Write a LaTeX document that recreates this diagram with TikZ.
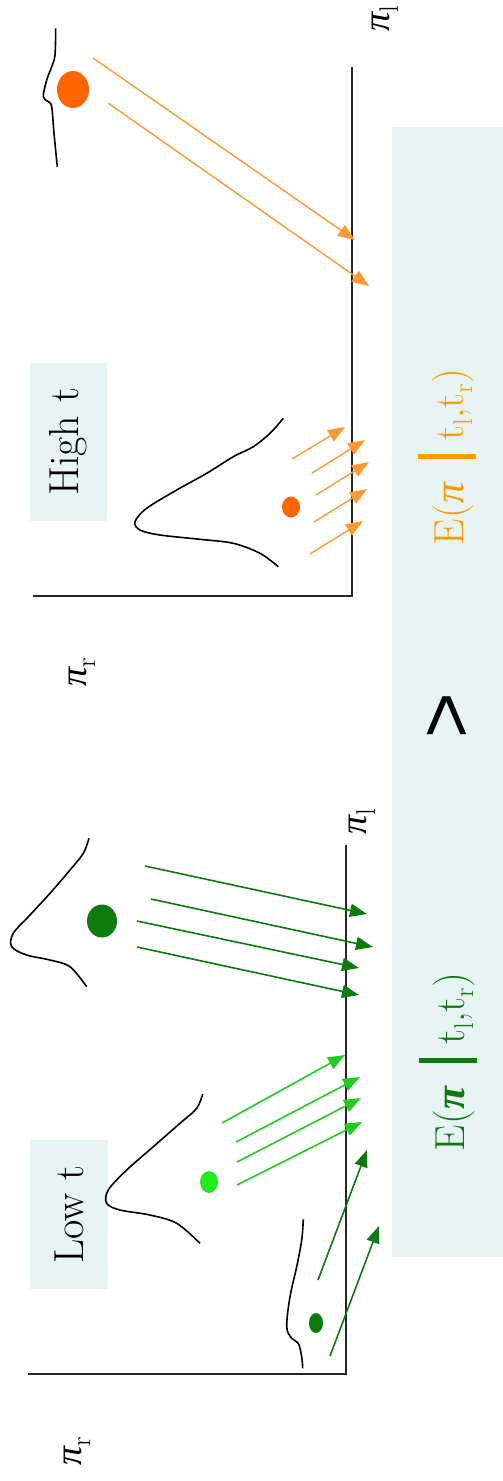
\documentclass[tikz,border=0pt]{standalone}
\usepackage{fontspec}
\usetikzlibrary{arrows.meta}
\newfontfamily\arialf{Liberation Sans}
\newfontfamily\grk{Liberation Serif}
\newcommand\PIit{{\grk\itshape π}}
\newcommand\PIbf{{\grk\bfseries\itshape π}}
\newcommand\lowsub[1]{\raisebox{-9pt}{\fontsize{27}{28}\selectfont #1}}
\newcommand\ebar{\hspace{24pt}\rule[-13pt]{4.5pt}{58pt}\hspace{14pt}}
\definecolor{panelbg}{HTML}{E8F4F4}
\definecolor{orArrow}{HTML}{FF9933}
\definecolor{orDot}{HTML}{FF6600}
\definecolor{orText}{HTML}{FF9900}
\definecolor{dkGreen}{HTML}{0D7A0D}
\definecolor{ltGreen}{HTML}{22CC22}
\definecolor{ltDot}{HTML}{1EEE1E}
\begin{document}
\begin{tikzpicture}[x=1pt,y=-1pt,
  axis/.style={line width=1.8pt, draw=black!85},
  dens/.style={line width=1.6pt, smooth, tension=0.55},
  oarr/.style={draw=orArrow, line width=1.4pt, -{Triangle[length=17pt,width=13pt]}},
  garr/.style={draw=dkGreen, line width=1.6pt, -{Triangle[length=17pt,width=13pt]}},
  larr/.style={draw=ltGreen, line width=1.6pt, -{Triangle[length=17pt,width=13pt]}},
  lbl/.style={fill=panelbg, rotate=90, inner sep=0pt, font=\fontsize{42}{48}\selectfont},
  axlbl/.style={rotate=90, inner sep=0pt, font=\fontsize{38}{44}\selectfont},
  etext/.style={rotate=90, inner sep=0pt, font=\fontsize{42}{48}\selectfont}
]
\useasboundingbox (0,0) rectangle (503,1481);
% background panel
\fill[panelbg] (392,127) rectangle (503,1257);

% ---------- High t ----------
\node[lbl, minimum width=158pt, minimum height=77pt] (hight) at (68.5,442) {High t};
\coordinate (hO) at (351.7,596);
\coordinate (hY) at (351.7,67);
\coordinate (hX) at (33,596);
\draw[axis] (hY) -- (hO) -- (hX);
\node[axlbl] (hpil) at (385,19) {\PIit\lowsub{l}};
\node[axlbl] (hpir) at (82,672) {\PIit\lowsub{r}};

\draw[dens] plot coordinates {(55.7,28.3) (55,55) (51.7,66.7) (46.7,80) (43.3,96.7) (48.3,101.7) (51.7,106.7) (54,133.3) (57.3,166.7)};
\fill[orDot] (73,89.5) ellipse [x radius=16, y radius=18.5];
\coordinate (hdot1) at (73,89.5);
\draw[dens] plot coordinates {(283.3,418.3) (270,433.3) (253.3,446.7) (233.3,456.7) (206.7,473.3) (176.7,490) (146.7,508.3) (135,521.7) (140,530) (160,535) (200,539.3) (233.3,543.3) (260,553.3) (278.3,566.7)};
\fill[orDot] (291,507) ellipse [x radius=9, y radius=10.5];
\coordinate (hdot2) at (291,507);

\coordinate (oa1s) at (93,58);   \coordinate (oa1e) at (355,240);
\coordinate (oa2s) at (108,103); \coordinate (oa2e) at (369,286);
\draw[oarr] (oa1s) -- (oa1e);
\draw[oarr] (oa2s) -- (oa2e);

\coordinate (ob1s) at (292,459); \coordinate (ob1e) at (345,427);
\coordinate (ob2s) at (312,473); \coordinate (ob2e) at (365,440);
\coordinate (ob3s) at (316,495); \coordinate (ob3e) at (369,462);
\coordinate (ob4s) at (314,522); \coordinate (ob4e) at (367,489);
\coordinate (ob5s) at (310,554); \coordinate (ob5e) at (363,521);
\foreach \i in {1,...,5} {\draw[oarr] (ob\i s) -- (ob\i e);}

% ---------- Low t ----------
\node[lbl, minimum width=149pt, minimum height=78pt] (lowt) at (69,1214.5) {Low t};
\coordinate (lO) at (345.7,1374);
\coordinate (lY) at (345.7,845);
\coordinate (lX) at (28,1374);
\draw[axis] (lY) -- (lO) -- (lX);
\node[axlbl] (lpil) at (362,822) {\PIit\lowsub{l}};
\node[axlbl] (lpir) at (77,1451) {\PIit\lowsub{r}};

\draw[dens] plot coordinates {(89,838.3) (83.3,853.3) (70,870) (50,893.3) (30,915) (13.3,933.3) (11.7,946.7) (26.7,955) (50,960) (70,966.7) (86.7,986.7)};
\fill[dkGreen] (102,921) ellipse [x radius=15, y radius=16.5];
\draw[dens] plot coordinates {(202.7,1094) (196.7,1108.3) (180,1123.3) (153.3,1146.7) (126.7,1170) (108.3,1190) (106.7,1203.3) (120,1210) (150,1215) (176.7,1223.3) (200,1243.3)};
\filldraw[fill=ltDot, draw=ltGreen, line width=0.6pt] (209,1182) ellipse [x radius=8.5, y radius=10.5];
\draw[dens] plot coordinates {(303.3,1219.3) (301.7,1240) (296.7,1266.7) (290,1296.7) (286.7,1326.7) (291.7,1338.3) (298.3,1343.3) (301.7,1356.7) (302.7,1368.3)};
\fill[dkGreen] (316,1323) ellipse [x radius=7, y radius=10];

\coordinate (ga1s) at (145,866); \coordinate (ga1e) at (367,914);
\coordinate (ga2s) at (151,899); \coordinate (ga2e) at (373,947);
\coordinate (ga3s) at (137,921); \coordinate (ga3e) at (359,968);
\coordinate (ga4s) at (137,947); \coordinate (ga4e) at (359,995);
\foreach \i in {1,...,4} {\draw[garr] (ga\i s) -- (ga\i e);}

\coordinate (la1s) at (222,1123); \coordinate (la1e) at (345,1055);
\coordinate (la2s) at (236,1142); \coordinate (la2e) at (360,1077);
\coordinate (la3s) at (237,1162); \coordinate (la3e) at (361,1098);
\coordinate (la4s) at (237,1185); \coordinate (la4e) at (362,1122);
\foreach \i in {1,...,4} {\draw[larr] (la\i s) -- (la\i e);}

\coordinate (gb1s) at (318,1280); \coordinate (gb1e) at (367,1150);
\coordinate (gb2s) at (330,1356); \coordinate (gb2e) at (379,1226);
\draw[garr] (gb1s) -- (gb1e);
\draw[garr] (gb2s) -- (gb2e);

% ---------- comparison text ----------
\node[etext, text=orText] (eor) at (447,457) {E(\PIit\ebar t\lowsub{l},t\lowsub{r})};
\node[etext, text=dkGreen] (egr) at (448,1062) {E(\PIbf\ebar t\lowsub{l},t\lowsub{r})};
\node[rotate=90, inner sep=0pt, font=\arialf\fontsize{78}{86}\selectfont] (gt) at (450,716) {>};
\end{tikzpicture}
\end{document}
